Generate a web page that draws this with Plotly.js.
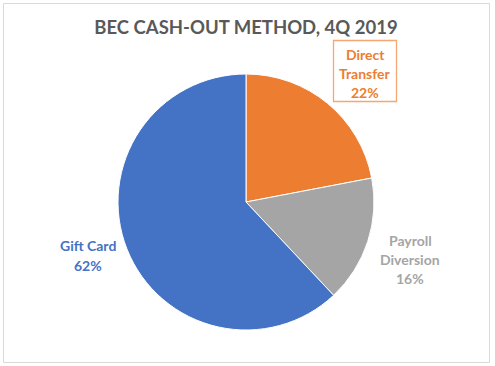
<!DOCTYPE html>
<html>
<head>
<meta charset="utf-8">
<script src="https://cdn.plot.ly/plotly-3.0.1.min.js"></script>
<style>
  html, body { margin: 0; padding: 0; background: #ffffff; }
  #chart { width: 495px; height: 366px; }
</style>
</head>
<body>
<div id="chart"></div>
<script>
// ---- data ----
const labels = ["Direct Transfer", "Payroll Diversion", "Gift Card"];
const labelLines = [["Direct", "Transfer"], ["Payroll", "Diversion"], ["Gift Card"]];
const values = [22, 16, 62];
const colors = ["#ED7D31", "#A5A5A5", "#4472C4"];
const titleText = "BEC CASH-OUT METHOD, 4Q 2019";

// ---- layout helpers (pixel -> paper) ----
const W = 495, H = 366;
const px = x => x / W;
const py = y => 1 - y / H;

// label placement (pixel centres of each label block)
const labelPos = [
  { x: 365, y: 73.5 },
  { x: 410, y: 259.5 },
  { x: 87.5, y: 255.5 }
];
const lineGap = 19.3;
const fontFam = "Lato, 'Open Sans', sans-serif";

const total = values.reduce((a, b) => a + b, 0);
const annotations = [];
labels.forEach((lab, i) => {
  const lines = labelLines[i].concat([Math.round(values[i] / total * 100) + "%"]);
  const n = lines.length;
  lines.forEach((t, k) => {
    const yc = labelPos[i].y + (k - (n - 1) / 2) * lineGap;
    annotations.push({
      text: "<b>" + t + "</b>",
      x: px(labelPos[i].x), y: py(yc),
      xref: "paper", yref: "paper",
      xanchor: "center", yanchor: "middle",
      showarrow: false,
      font: { family: fontFam, size: 14, color: colors[i] }
    });
  });
});

const cx = 246, cy = 202, r = 128;

const data = [{
  type: "pie",
  labels: labels,
  values: values,
  sort: false,
  direction: "clockwise",
  rotation: 0,
  marker: { colors: colors, line: { color: "#ffffff", width: 1 } },
  textinfo: "none",
  hoverinfo: "label+percent",
  domain: { x: [px(cx - r), px(cx + r)], y: [py(cy + r), py(cy - r)] }
}];

const layout = {
  width: W, height: H,
  margin: { l: 0, r: 0, t: 0, b: 0 },
  paper_bgcolor: "#ffffff",
  showlegend: false,
  title: {
    text: "<b>" + titleText + "</b>",
    x: px(246), xanchor: "center",
    y: py(27.5), yanchor: "middle",
    xref: "paper", yref: "paper",
    font: { family: fontFam, size: 18.5, color: "#595959" }
  },
  annotations: annotations,
  shapes: [
    { type: "rect", xref: "paper", yref: "paper",
      x0: px(3.5), x1: px(489.5), y0: py(362.5), y1: py(3.5),
      line: { color: "#D9D9D9", width: 1 }, fillcolor: "rgba(0,0,0,0)" },
    { type: "rect", xref: "paper", yref: "paper",
      x0: px(333.5), x1: px(396.5), y0: py(101.5), y1: py(40.5),
      line: { color: "#F4A772", width: 1.3 }, fillcolor: "rgba(0,0,0,0)" }
  ]
};

Plotly.newPlot("chart", data, layout, { displayModeBar: false, staticPlot: true });
</script>
</body>
</html>
